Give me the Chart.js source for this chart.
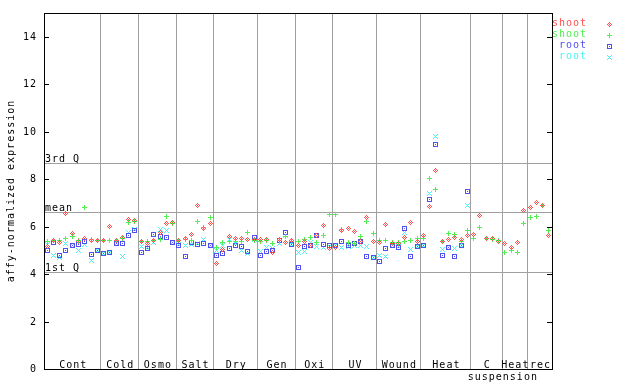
<!DOCTYPE html>
<html><head><meta charset="utf-8">
<script src="https://cdn.jsdelivr.net/npm/chart.js@4/dist/chart.umd.min.js"></script>
<style>html,body{margin:0;padding:0;background:#fff}canvas{display:block}</style>
</head><body>
<canvas id="c" width="640" height="384"></canvas>
<script>
// ---- data ----
const groupNames = ['Cont','Cold','Osmo','Salt','Dry','Gen','Oxi','UV','Wound','Heat','C','Heat','rec'];
const groupSizes = [9,6,6,6,7,6,6,7,7,8,5,4,4];
const yTicks = [0,2,4,6,8,10,12,14];
const statNames = ['3rd Q','mean','1st Q'];
const statValues = [8.67,6.61,4.08];
const seriesNames = ['shoot','shoot','root','root'];
const yTitle = 'affy-normalized expression';

const shootRed = [5.15,5.40,5.32,6.55,5.71,5.39,5.50,5.42,5.43,
  5.43,6.02,5.40,5.53,6.31,6.24,
  5.36,5.30,5.40,5.75,6.13,6.18,
  5.43,5.50,5.68,6.90,5.94,6.13,
  4.45,5.05,5.60,5.50,5.50,5.46,5.46,
  5.46,5.46,4.91,5.46,5.32,5.43,
  5.19,5.39,5.19,5.63,6.06,5.08,
  5.14,5.85,5.92,5.81,5.36,6.39,5.39,
  5.34,6.09,5.30,5.30,5.54,6.18,5.37,
  5.63,6.86,8.36,5.36,5.46,5.54,5.46,5.63,
  5.67,6.47,5.49,5.50,5.38,
  5.29,5.14,5.33,6.68,
  6.81,7.03,6.89,5.63];
const shootGreen = [5.36,5.43,5.43,5.50,5.60,5.40,6.81,5.45,5.43,
  5.43,5.43,5.43,5.50,6.18,6.22,
  5.36,5.36,5.43,5.46,6.44,6.13,
  5.43,5.46,5.43,6.22,5.96,6.39,
  5.12,5.33,5.36,5.36,5.36,5.75,5.43,
  5.36,5.43,5.27,5.43,5.57,5.36,
  5.39,5.47,5.52,5.33,5.63,6.51,
  6.51,5.89,5.35,5.29,5.60,6.23,5.71,
  5.43,5.43,5.35,5.35,5.38,5.43,5.50,
  5.50,8.03,7.57,5.39,5.71,5.67,5.39,5.85,
  5.50,5.96,5.50,5.45,5.40,
  4.91,5.01,4.91,6.13,
  6.39,6.43,6.89,5.85];
const rootBlue = [5.00,5.33,4.79,5.00,5.19,5.25,5.38,4.83,4.98,
  4.87,4.90,5.28,5.29,5.61,5.85,
  4.91,5.09,5.67,5.60,5.54,5.32,
  5.22,4.76,5.32,5.26,5.29,5.19,
  4.79,4.87,5.08,5.22,5.18,4.94,5.53,
  4.79,4.95,5.00,5.43,5.75,5.26,
  4.29,5.16,5.19,5.63,5.25,5.22,
  5.19,5.38,5.22,5.29,5.38,4.76,4.70,
  4.55,5.08,5.19,5.13,5.92,4.76,5.15,
  5.22,7.14,9.46,4.79,5.12,4.76,5.19,7.48];
const rootCyan = [5.26,4.80,4.70,5.29,5.20,5.00,5.23,4.56,5.00,
  4.87,4.90,5.30,4.72,5.74,5.88,
  5.15,5.13,5.32,5.88,5.85,5.32,
  5.25,5.22,5.25,5.27,5.46,5.20,
  5.00,5.20,5.45,5.27,5.00,4.87,5.47,
  4.97,5.13,5.07,5.27,5.63,5.26,
  4.90,4.94,5.35,5.15,5.13,5.15,
  5.19,5.13,5.15,5.22,5.22,5.18,4.70,
  4.80,4.76,5.22,5.15,5.77,5.05,5.15,
  5.22,7.40,9.81,5.05,5.12,5.09,5.22,6.89];

// ---- styles ----
const COLORS = ['#ff5050','#50f050','#5050f0','#50f0f0'];
const PATTERNS = [
  ['..X..','.X.X.','X.X.X','.X.X.','..X..'],
  ['..X..','..X..','XXXXX','..X..','..X..'],
  ['XXXXX','X...X','X.X.X','X...X','XXXXX'],
  ['X...X','.X.X.','..X..','.X.X.','X...X']
];
function makeMarker(pattern, color) {
  const cv = document.createElement('canvas');
  cv.width = pattern[0].length; cv.height = pattern.length;
  const g = cv.getContext('2d');
  g.fillStyle = color;
  pattern.forEach((row, r) => { for (let c = 0; c < row.length; c++) if (row[c] === 'X') g.fillRect(c, r, 1, 1); });
  return cv;
}
const markers = PATTERNS.map((p, i) => makeMarker(p, COLORS[i]));
const totalSlots = groupSizes.reduce((a, b) => a + b, 0);
const toPts = arr => arr.map((v, i) => (v == null ? null : { x: i + 0.5, y: v })).filter(Boolean);
const allSeries = [shootRed, shootGreen, rootBlue, rootCyan];

const FONT = '10px "DejaVu Sans Mono", monospace';

const decor = {
  id: 'decor',
  beforeDatasetsDraw(chart) {
    const ctx = chart.ctx, a = chart.chartArea, xs = chart.scales.x, ys = chart.scales.y;
    // snap library-computed point positions to the pixel grid for crisp markers
    chart.data.datasets.forEach((d, i) => {
      chart.getDatasetMeta(i).data.forEach(el => {
        el.x = Math.floor(el.x) + 0.5;
        el.y = Math.floor(el.y) + 0.5;
      });
    });
    ctx.save();
    ctx.lineWidth = 1;
    ctx.strokeStyle = '#a0a0a0';
    // group boundary lines
    let cum = 0;
    for (let g = 0; g < groupSizes.length - 1; g++) {
      cum += groupSizes[g];
      const px = Math.round(xs.getPixelForValue(cum)) + 0.5;
      ctx.beginPath(); ctx.moveTo(px, a.top); ctx.lineTo(px, a.bottom); ctx.stroke();
    }
    // stat lines
    statValues.forEach(v => {
      const py = Math.round(ys.getPixelForValue(v)) + 0.5;
      ctx.beginPath(); ctx.moveTo(a.left, py); ctx.lineTo(a.right, py); ctx.stroke();
    });
    // frame
    ctx.strokeStyle = '#000';
    ctx.strokeRect(Math.round(a.left) + 0.5, Math.round(a.top) + 0.5, Math.round(a.right - a.left), Math.round(a.bottom - a.top));
    // y ticks
    ctx.font = FONT; ctx.letterSpacing = '1px';
    ctx.fillStyle = '#000';
    ctx.textAlign = 'right'; ctx.textBaseline = 'middle';
    yTicks.forEach(v => {
      const py = Math.round(ys.getPixelForValue(v)) + 0.5;
      ctx.beginPath();
      ctx.moveTo(a.left, py); ctx.lineTo(a.left + 5, py);
      ctx.moveTo(a.right - 5, py); ctx.lineTo(a.right, py);
      ctx.stroke();
      ctx.fillText(String(v), 37, py);
    });
    // stat labels
    ctx.textAlign = 'left'; ctx.textBaseline = 'alphabetic';
    statValues.forEach((v, i) => {
      const py = Math.round(ys.getPixelForValue(v));
      ctx.fillText(statNames[i], a.left + 1, py - 1);
    });
    // group labels
    ctx.textAlign = 'center';
    cum = 0;
    groupSizes.forEach((n, g) => {
      const cx = xs.getPixelForValue(cum + n / 2);
      ctx.fillText(groupNames[g], cx + 1, a.bottom - 1);
      cum += n;
    });
    // second line for C suspension
    const cStart = groupSizes.slice(0, 10).reduce((s, n) => s + n, 0);
    ctx.textBaseline = 'middle';
    ctx.fillText('suspension', xs.getPixelForValue(cStart + groupSizes[10]) + 1, a.bottom + 8);
    // y title
    ctx.save();
    ctx.translate(11, (a.top + a.bottom) / 2);
    ctx.rotate(-Math.PI / 2);
    ctx.textAlign = 'center'; ctx.textBaseline = 'middle';
    ctx.fillText(yTitle, 0, 0);
    ctx.restore();
    // legend
    ctx.textAlign = 'right'; ctx.textBaseline = 'middle';
    seriesNames.forEach((name, i) => {
      const py = 23.5 + i * 11;
      ctx.fillStyle = COLORS[i];
      ctx.fillText(name, 587, py);
      ctx.drawImage(markers[i], 607, Math.round(py) - 2);
    });
    ctx.restore();
    chart.ctx.imageSmoothingEnabled = false;
  }
};

new Chart(document.getElementById('c'), {
  type: 'scatter',
  data: {
    datasets: allSeries.map((arr, i) => ({
      label: seriesNames[i],
      data: toPts(arr),
      pointStyle: markers[i],
      pointRadius: 3,
      showLine: false
    }))
  },
  options: {
    responsive: false,
    animation: false,
    devicePixelRatio: 1,
    layout: { padding: { left: 44, top: 13, right: 88, bottom: 15 } },
    plugins: { legend: { display: false }, tooltip: { enabled: false } },
    scales: {
      x: { type: 'linear', min: 0, max: totalSlots, display: false },
      y: { type: 'linear', min: 0, max: 15, display: false }
    }
  },
  plugins: [decor]
});
</script>
</body></html>
